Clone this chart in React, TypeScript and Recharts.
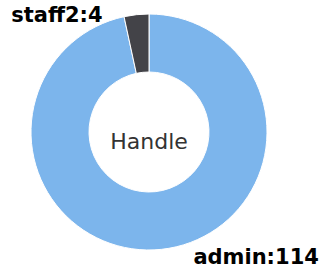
import { PieChart, Pie, Cell } from 'recharts'

const names = ['admin', 'staff2']
const counts = [114, 4]
const colors = ['#7cb5ec', '#434348']
const centerTitle = 'Handle'

const data = names.map((name, i) => ({ name, value: counts[i] }))

const RADIAN = Math.PI / 180

const renderLabel = (props: any) => {
  const { cx, cy, midAngle, outerRadius, name, value } = props
  const cos = Math.cos(-midAngle * RADIAN)
  const sin = Math.sin(-midAngle * RADIAN)
  const r = outerRadius + 8
  const left = cos < 0
  const x = cx + r * cos + (left ? -33 : 31)
  const y = cy + r * sin + (sin < 0 ? 8 : 0)
  return (
    <text
      x={x}
      y={y}
      textAnchor={left ? 'end' : 'start'}
      dominantBaseline="central"
      fill="#000"
      fontSize={21}
      fontWeight="bold"
      fontFamily="DejaVu Sans"
    >
      {`${name}:${value}`}
    </text>
  )
}

const App = () => {
  return (
    <div style={{ position: 'absolute', left: 0, top: 0, background: '#fff' }}>
      <PieChart width={332} height={269} margin={{ top: 0, right: 0, bottom: 0, left: 0 }}>
        <Pie
          data={data}
          dataKey="value"
          nameKey="name"
          cx={149}
          cy={132}
          innerRadius={60}
          outerRadius={118}
          startAngle={90}
          endAngle={-270}
          stroke="#fff"
          strokeWidth={1}
          label={renderLabel}
          labelLine={false}
          isAnimationActive={false}
        >
          {data.map((d, i) => (
            <Cell key={d.name} fill={colors[i]} />
          ))}
        </Pie>
        <text
          x={149}
          y={141}
          textAnchor="middle"
          dominantBaseline="central"
          fill="#333"
          fontSize={22}
          fontFamily="DejaVu Sans"
        >
          {centerTitle}
        </text>
      </PieChart>
    </div>
  )
}

export default App
